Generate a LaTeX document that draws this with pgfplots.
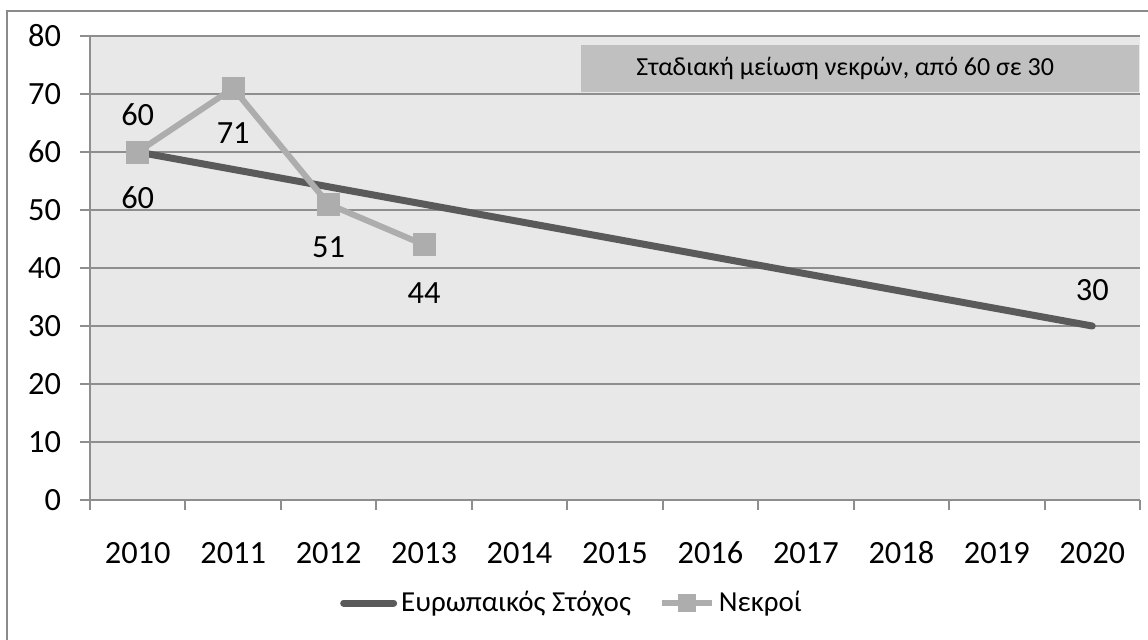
\documentclass[border=0pt]{standalone}
\usepackage{fontspec}
\setmainfont{Carlito}
\usepackage{pgfplots}
\pgfplotsset{compat=1.18}
\definecolor{bgc}{HTML}{E8E8E8}
\definecolor{gridc}{HTML}{8E8E8E}
\definecolor{boxc}{HTML}{C0C0C0}
\definecolor{darkl}{HTML}{5A5A5A}
\definecolor{lightl}{HTML}{ADADAD}
\definecolor{framec}{HTML}{8A8A8A}
\begin{document}
\begin{tikzpicture}[x=0.5pt,y=0.5pt]
\useasboundingbox (0,0) rectangle (1148,639);
\draw[framec,line width=1pt] (7,-10) rectangle (1160,628);
\begin{axis}[
  at={(45pt,69.5pt)}, anchor=south west,
  scale only axis, width=525pt, height=232pt,
  xmin=-0.5, xmax=10.5, ymin=0, ymax=80,
  /pgf/number format/assume math mode=true,
  axis background/.style={fill=bgc},
  axis x line=bottom, axis y line=left,
  axis line style={gridc,line width=1pt,-},
  every tick/.style={gridc,line width=1pt},
  tick align=outside,
  xtick={0,...,10},
  xticklabels={2010,2011,2012,2013,2014,2015,2016,2017,2018,2019,2020},
  major x tick style={draw=none},
  minor xtick={-0.5,0.5,...,10.5},
  minor tick length=5pt,
  major tick length=5pt,
  ytick={0,10,...,80},
  ymajorgrids, grid style={gridc,line width=1pt},
  tick label style={font=\fontsize{16.2}{19}\selectfont},
  xticklabel style={yshift=-12pt, text height=11pt, text depth=0pt},
  yticklabel style={xshift=-6pt},
  clip=false,
  legend style={at={(0.46,-0.222)}, anchor=center, draw=none, fill=none,
    legend columns=2, font=\fontsize{14.5}{17}\selectfont,
    /tikz/every even column/.append style={column sep=12pt},
    inner sep=0pt},
  legend cell align=left,
  legend image code/.code={\draw[mark repeat=2,mark phase=2,#1,mark size=4.2pt] plot coordinates {(0pt,0pt) (12.5pt,0pt) (25pt,0pt)};},
  nodes near coords,
  point meta=explicit,
  visualization depends on={\thisrow{ys}\as\ys},
  nodes near coords style={anchor=center, yshift=\ys pt, font=\fontsize{16.2}{19}\selectfont, text=black},
]
\fill[boxc] (rel axis cs:0.468,0.879) rectangle (rel axis cs:0.999,0.981);
\node[anchor=west,font=\fontsize{13}{15}\selectfont,inner sep=0pt] at (rel axis cs:0.520,0.930) {Σταδιακή μείωση νεκρών, από 60 σε 30};
\addplot[darkl, line width=3.5pt, line cap=round, line join=round, mark=none]
  table[x=x,y=y,meta=y] {
x y ys
0 60 -23
10 30 18
};
\addlegendentry{Ευρωπαικός Στόχος}
\addplot[lightl, line width=3pt, line join=round, mark=square*, mark size=5.5pt, mark options={fill=lightl,draw=lightl,line width=0pt}]
  table[x=x,y=y,meta=y] {
x y ys
0 60 18.5
1 71 -22.5
2 51 -21.5
3 44 -24
};
\addlegendentry{Νεκροί}
\end{axis}
\end{tikzpicture}
\end{document}
